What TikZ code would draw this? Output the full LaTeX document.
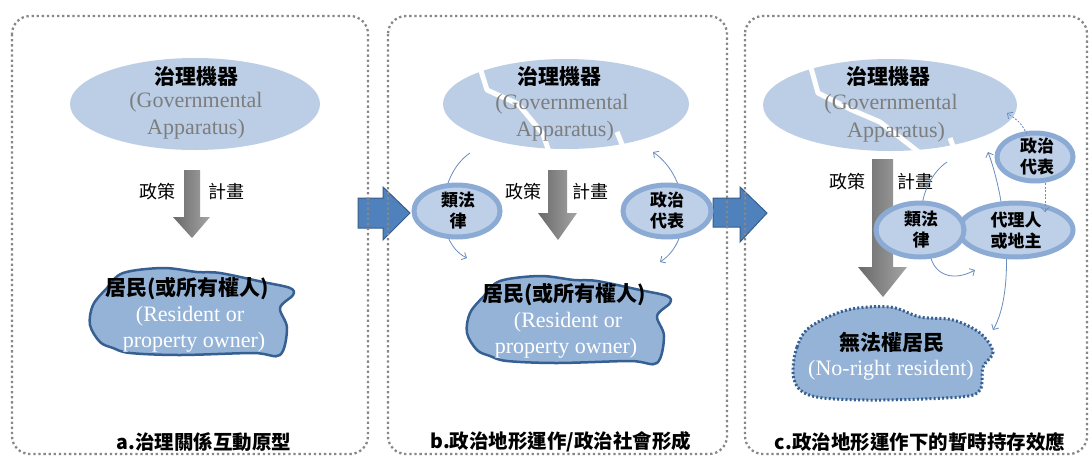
\documentclass[tikz,border=0pt]{standalone}
\usepackage{fontspec}
\setmainfont{Liberation Serif}
\newfontfamily\cjk{Noto Sans CJK TC}
\usetikzlibrary{shapes.geometric,arrows.meta}
\definecolor{govfill}{RGB}{187,206,229}
\definecolor{resfill}{RGB}{149,179,215}
\definecolor{resedge}{RGB}{54,96,146}
\definecolor{ringc}{RGB}{140,171,212}
\definecolor{innerc}{RGB}{190,208,232}
\definecolor{bigarrow}{RGB}{79,129,189}
\definecolor{bigedge}{RGB}{56,93,138}
\definecolor{curvec}{RGB}{105,140,190}
\definecolor{engray}{RGB}{125,125,125}
\definecolor{panelc}{RGB}{135,135,135}
\definecolor{arrowdark}{RGB}{105,105,105}
\definecolor{arrowlight}{RGB}{165,165,165}
\tikzset{
  panelbox/.style={draw=panelc, line width=2.3pt, dash pattern=on 2.3pt off 2.8pt, rounded corners=18pt},
  gov/.style={ellipse, fill=govfill, draw=none, inner sep=0pt, minimum width=250pt, minimum height=92pt},
  crack/.style={draw=white, line width=5pt, line join=round},
  smallell/.style={ellipse, fill=innerc, draw=ringc, line width=5pt, inner sep=0pt},
  zhb/.style={font=\cjk\bfseries\fontsize{21}{24}\selectfont, inner sep=0pt},
  zhs/.style={font=\cjk\bfseries\fontsize{17}{21}\selectfont, align=center, inner sep=0pt},
  zhr/.style={font=\cjk\fontsize{18}{22}\selectfont, inner sep=0pt},
  title/.style={font=\cjk\bfseries\fontsize{19.5}{22}\selectfont, inner sep=0pt},
  engov/.style={font=\fontsize{22}{24}\selectfont, text=engray, inner sep=0pt},
  enres/.style={font=\fontsize{22}{24}\selectfont, text=white, inner sep=0pt},
  grayarrow/.style={left color=arrowdark, right color=arrowlight, draw=none},
  bluearrow/.style={fill=bigarrow, draw=bigedge, line width=1pt, line join=miter},
  curve/.style={draw=curvec, line width=0.8pt},
  tip/.style={-{Straight Barb[length=4pt,width=8pt]}},
  tips/.style={{Straight Barb[length=4pt,width=8pt]}-{Straight Barb[length=4pt,width=8pt]}},
  dashline/.style={dash pattern=on 2pt off 1.5pt},
  resblob/.style={fill=resfill, draw=resedge, line width=2.5pt},
  resblobdot/.style={fill=resfill, draw=resedge, line width=3pt, dash pattern=on 2pt off 2.2pt}
}
\begin{document}
\begin{tikzpicture}[x=1pt,y=-1pt]
\useasboundingbox (0,0) rectangle (1091,458);
\fill[white] (0,0) rectangle (1091,458);

% big blue arrows between panels
\draw[bluearrow] (358,198) -- (383,198) -- (383,187) -- (410,213) -- (383,240) -- (383,228) -- (358,228) -- cycle;
\draw[bluearrow] (713,198) -- (740,198) -- (740,187) -- (767,213) -- (740,242) -- (740,227) -- (713,227) -- cycle;

% panels
\draw[panelbox] (12,16) rectangle (368,454);
\draw[panelbox] (388,16) rectangle (727,454);
\draw[panelbox] (745,16) rectangle (1087,454);

% ===== Panel a =====
\node[gov] (govA) at (195,104) {};
\node[zhb] (govAt) at (196,77) {治理機器};
\node[engov] (govAe1) at (196,102) {(Governmental};
\node[engov] (govAe2) at (196,129) {Apparatus)};
\path[grayarrow] (184,170) -- (200,170) -- (200,217) -- (210,217) -- (192,238) -- (173,217) -- (184,217) -- cycle;
\node[zhr] (polA) at (157,192) {政策};
\node[zhr] (planA) at (226,192) {計畫};
\draw[resblob] plot[smooth cycle, tension=0.55] coordinates {(107,288) (123,273) (163,268) (197,272) (220,273) (263,282) (290,288) (293,295) (280,308) (287,328) (280,355) (253,353) (180,355) (130,353) (113,348) (100,342) (90,325) (93,305)};
\node[zhb] (resAt) at (187,289) {居民(或所有權人)};
\node[enres] (resAe1) at (190,316) {(Resident or};
\node[enres] (resAe2) at (194,342) {property owner)};
\node[title] (titA) at (204,442) {a.治理關係互動原型};

% ===== Panel b =====
\node[gov, minimum width=246pt, minimum height=90pt] (govB) at (566,104) {};
\draw[crack] (477,58) -- (487,90) -- (518,104) -- (543,134) -- (549,152);
\draw[crack] (617,132) -- (625,152);
\node[zhb] (govBt) at (559,77) {治理機器};
\node[engov] (govBe1) at (562,104) {(Governmental};
\node[engov] (govBe2) at (565,131) {Apparatus)};
\path[grayarrow] (548,170) -- (567,170) -- (567,213) -- (577,213) -- (558,240) -- (538,213) -- (548,213) -- cycle;
\node[zhr] (polB) at (523,192) {政策};
\node[zhr] (planB) at (590,192) {計畫};
\coordinate (bl1) at (470,153);
\coordinate (bl2) at (467,258);
\coordinate (br1) at (653,152);
\coordinate (br2) at (660,262);
\draw[curve, tip] (bl1) .. controls (436,176) and (434,242) .. (bl2);
\draw[curve, tips] (br1) .. controls (690,178) and (694,240) .. (br2);
\node[smallell, minimum width=86pt, minimum height=52pt] (lawB) at (457,211) {};
\node[zhs] (lawBt) at (458,211) {類法\\律};
\node[smallell, minimum width=88pt, minimum height=52pt] (repB) at (667,211) {};
\node[zhs] (repBt) at (667,211) {政治\\代表};
\begin{scope}[shift={(377,8)}]
\draw[resblob] plot[smooth cycle, tension=0.55] coordinates {(107,288) (123,273) (163,268) (197,272) (220,273) (263,282) (290,288) (293,295) (280,308) (287,328) (280,355) (253,353) (180,355) (130,353) (113,348) (100,342) (90,325) (93,305)};
\end{scope}
\node[zhb] (resBt) at (564,295) {居民(或所有權人)};
\node[enres] (resBe1) at (568,322) {(Resident or};
\node[enres] (resBe2) at (566,348) {property owner)};
\node[title] (titB) at (561,442) {b.政治地形運作/政治社會形成};

% ===== Panel c =====
\node[gov, minimum width=254pt, minimum height=92pt] (govC) at (890,105) {};
\draw[crack] (808,57) -- (818,93) -- (852,110) -- (880,122) -- (920,153);
\draw[crack] (950,138) -- (956,154);
\node[zhb] (govCt) at (888,77) {治理機器};
\node[engov] (govCe1) at (891,104) {(Governmental};
\node[engov] (govCe2) at (896,132) {Apparatus)};
\path[grayarrow] (872,159) -- (893,159) -- (893,267) -- (907,267) -- (883,297) -- (858,267) -- (872,267) -- cycle;
\node[zhr] (polC) at (847,182) {政策};
\node[zhr] (planC) at (915,182) {計畫};
% connectors
\coordinate (c1) at (1027,134);
\coordinate (c2) at (1007,113);
\coordinate (c3) at (1045,183);
\coordinate (c4) at (1045,212);
\coordinate (c5) at (930,255);
\coordinate (c6) at (975,270);
\coordinate (c7) at (947,162);
\coordinate (c8) at (922,205);
\coordinate (c9) at (988,152);
\coordinate (c10) at (993,330);
\draw[curve, tips] (c9) .. controls (1006,200) and (1016,290) .. (c10);
\draw[curve] (c7) .. controls (935,170) and (925,186) .. (c8);
\draw[curve, tip] (c5) .. controls (935,277) and (955,281) .. (c6);
\node[smallell, minimum width=114pt, minimum height=54pt] (agentC) at (1016,230) {};
\node[smallell, minimum width=88pt, minimum height=54pt] (lawC) at (920,230) {};
\node[zhs] (lawCt) at (921,230) {類法\\律};
\node[zhs] (agentCt) at (1016,231) {代理人\\或地主};
\node[smallell, minimum width=76pt, minimum height=48pt] (repC) at (1035,157) {};
\node[zhs] (repCt) at (1037,157) {政治\\代表};
\draw[curve, dashline, tip] (c1) .. controls (1020,122) .. (c2);
\draw[curve, dashline, tip] (c3) -- (c4);
\draw[resblobdot] plot[smooth cycle, tension=0.55] coordinates {(793,373) (797,347) (810,327) (847,310) (890,307) (920,317) (953,320) (980,333) (993,352) (983,367) (980,390) (960,397) (880,400) (823,398) (800,390)};
\node[zhb] (resCt) at (892,342) {無法權居民};
\node[enres] (resCe) at (891,370) {(No-right resident)};
\node[title] (titC) at (920,442) {c.政治地形運作下的暫時持存效應};
\end{tikzpicture}
\end{document}
